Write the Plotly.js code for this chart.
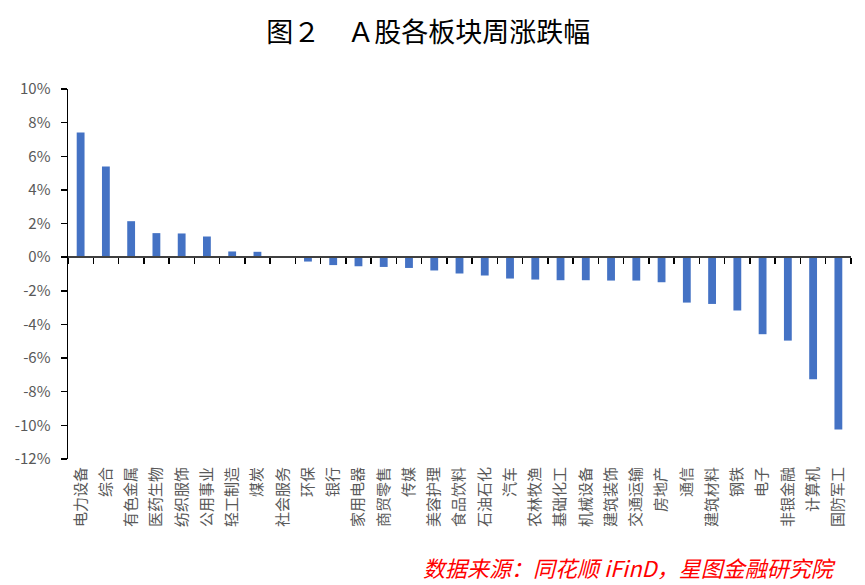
<!DOCTYPE html>
<html>
<head>
<meta charset="utf-8">
<script src="https://cdn.plot.ly/plotly-3.0.1.min.js"></script>
<style>html,body{margin:0;padding:0;background:#fff;}#chart{width:865px;height:585px;}</style>
</head>
<body>
<div id="chart"></div>
<script>
const categories = ['电力设备','综合','有色金属','医药生物','纺织服饰','公用事业','轻工制造','煤炭','社会服务','环保','银行','家用电器','商贸零售','传媒','美容护理','食品饮料','石油石化','汽车','农林牧渔','基础化工','机械设备','建筑装饰','交通运输','房地产','通信','建筑材料','钢铁','电子','非银金融','计算机','国防军工'];
const weeklyChange = [7.41, 5.39, 2.14, 1.43, 1.41, 1.23, 0.34, 0.32, -0.01, -0.26, -0.47, -0.54, -0.58, -0.64, -0.79, -0.97, -1.09, -1.27, -1.33, -1.37, -1.37, -1.39, -1.39, -1.49, -2.70, -2.78, -3.17, -4.58, -4.96, -7.26, -10.25];
const tickVals = [10, 8, 6, 4, 2, 0, -2, -4, -6, -8, -10, -12];
const tickLabels = ['10%','8%','6%','4%','2%','0%','-2%','-4%','-6%','-8%','-10%','-12%'];
const titleText = '图２　Ａ股各板块周涨跌幅';
const sourceText = '数据来源：同花顺 iFinD，星图金融研究院';

const cjk = '"Noto Sans CJK SC", "Noto Sans", sans-serif';

const traces = [
  {
    type: 'bar', x: categories, y: weeklyChange, xaxis: 'x', yaxis: 'y',
    marker: {color: '#4472C4', line: {width: 0}},
    hoverinfo: 'x+y'
  },
  {
    type: 'bar', x: categories, y: weeklyChange, xaxis: 'x2', yaxis: 'y',
    marker: {color: 'rgba(0,0,0,0)'}, hoverinfo: 'skip', showlegend: false
  }
];

const layout = {
  width: 865, height: 585,
  margin: {l: 68, r: 14, t: 89, b: 126},
  paper_bgcolor: '#ffffff', plot_bgcolor: '#ffffff',
  showlegend: false,
  bargap: 0.69,
  title: {
    text: titleText, x: 0.495, xanchor: 'center', xref: 'container',
    y: 1 - 33/585, yanchor: 'middle', yref: 'container',
    font: {family: cjk, size: 27, color: '#000000'}
  },
  xaxis: {
    type: 'category', showline: false, ticks: '', showgrid: false, zeroline: false,
    tickangle: -90, tickfont: {family: cjk, size: 15, color: '#595959'},
    automargin: false, ticklabelstandoff: 4
  },
  xaxis2: {
    type: 'category', overlaying: 'x', matches: 'x', anchor: 'free',
    position: 12/22, side: 'bottom',
    showline: true, linecolor: '#404040', linewidth: 2,
    ticks: 'outside', tickson: 'boundaries', ticklen: 6, tickwidth: 1.5, tickcolor: '#000000',
    showticklabels: false, showgrid: false, zeroline: false
  },
  yaxis: {
    range: [-12, 10], tickvals: tickVals, ticktext: tickLabels,
    showline: true, linecolor: '#000000', linewidth: 1.5,
    ticks: 'outside', ticklen: 6, tickwidth: 1.5, tickcolor: '#000000',
    showgrid: false, zeroline: false,
    tickfont: {family: cjk, size: 15, color: '#595959'},
    automargin: false, ticklabelstandoff: 7
  },
  annotations: [
    {
      text: sourceText, xref: 'paper', yref: 'paper',
      x: (838 - 68) / (851 - 68), xanchor: 'right',
      y: -(567 - 459) / (459 - 89), yanchor: 'middle',
      showarrow: false,
      font: {family: cjk, size: 22, color: '#FF0000', style: 'italic'}
    }
  ]
};

Plotly.newPlot('chart', traces, layout, {displayModeBar: false, staticPlot: true});
</script>
</body>
</html>
